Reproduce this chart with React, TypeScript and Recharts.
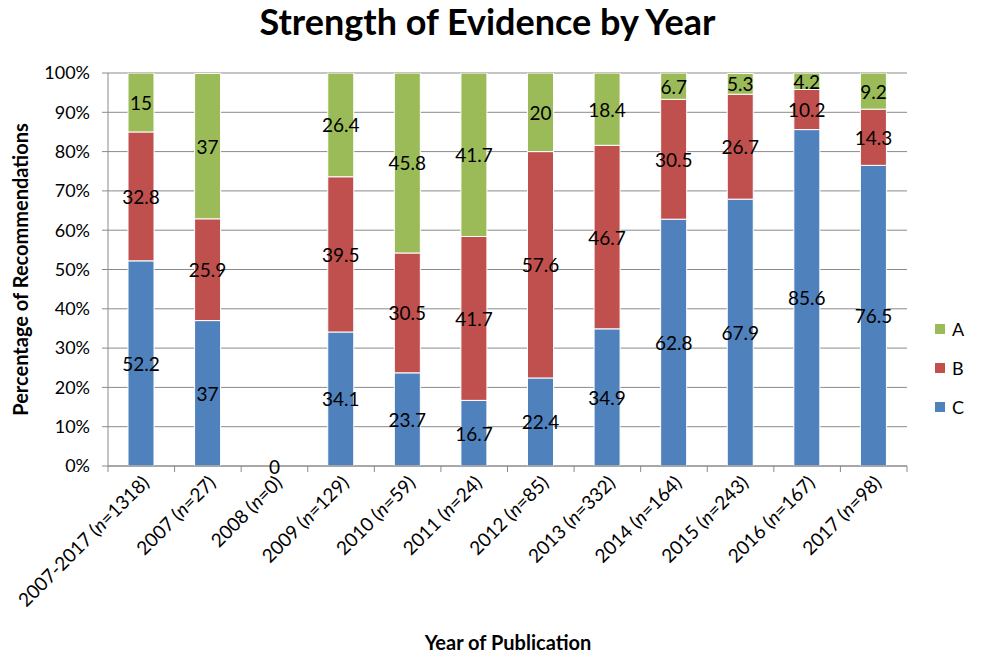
import { Bar, CartesianGrid, ComposedChart, LabelList, Line, XAxis, YAxis } from 'recharts';

const years = ['2007-2017', '2007', '2008', '2009', '2010', '2011', '2012', '2013', '2014', '2015', '2016', '2017'];
const counts = [1318, 27, 0, 129, 59, 24, 85, 332, 164, 243, 167, 98];

const gradeC = [52.2, 37, 0, 34.1, 23.7, 16.7, 22.4, 34.9, 62.8, 67.9, 85.6, 76.5];
const gradeB = [32.8, 25.9, 0, 39.5, 30.5, 41.7, 57.6, 46.7, 30.5, 26.7, 10.2, 14.3];
const gradeA = [15, 37, 0, 26.4, 45.8, 41.7, 20, 18.4, 6.7, 5.3, 4.2, 9.2];

const yTicks = [0, 10, 20, 30, 40, 50, 60, 70, 80, 90, 100];

const series = [
    { key: 'A', color: '#9BBB59' },
    { key: 'B', color: '#C0504D' },
    { key: 'C', color: '#4F81BD' },
];

// empty years still get a "0" label, like the spreadsheet does
const data = years.map((year, i) => ({
    name: year,
    n: counts[i],
    C: gradeC[i],
    B: gradeB[i],
    A: gradeA[i],
    empty: gradeA[i] + gradeB[i] + gradeC[i] === 0 ? 0 : null,
}));

const FONT = 'Lato, "Open Sans", sans-serif';
const AXIS_GREY = '#8a8a8a';

function CategoryTick(props: any) {
    const { x, y, payload, index } = props;
    const half = payload.offset ?? 33.3;
    const entry = data[index];
    const isLast = index === years.length - 1;
    return (
        <g>
            <line x1={x - half} y1={y} x2={x - half} y2={y + 6} stroke={AXIS_GREY} />
            {isLast && <line x1={x + half} y1={y} x2={x + half} y2={y + 6} stroke={AXIS_GREY} />}
            <text
                x={0}
                y={0}
                transform={`translate(${x + 9}, ${y + 18}) rotate(-45)`}
                textAnchor="end"
                fontSize={19}
                fontFamily={FONT}
                fill="#000"
            >
                {`${entry.name} (`}
                <tspan fontStyle="italic">n</tspan>
                {`=${entry.n})`}
            </text>
        </g>
    );
}

function SegmentLabel(props: any) {
    const { x, y, width, height, value } = props;
    if (!value) return null;
    return (
        <text
            x={x + width / 2}
            y={y + height / 2}
            textAnchor="middle"
            dominantBaseline="central"
            fontSize={19}
            fontFamily={FONT}
            fill="#000"
        >
            {value}
        </text>
    );
}

function EmptyLabel(props: any) {
    const { x, y, value } = props;
    if (value === null || value === undefined) return null;
    return (
        <text x={x} y={y} textAnchor="middle" dominantBaseline="central" fontSize={19} fontFamily={FONT} fill="#000">
            {value}
        </text>
    );
}

export default function App() {
    return (
        <div style={{ position: 'absolute', left: 0, top: 0, width: 982, height: 655, background: '#fff' }}>
            <div
                style={{
                    position: 'absolute',
                    left: 0,
                    top: -1,
                    width: 975,
                    textAlign: 'center',
                    fontFamily: FONT,
                    fontWeight: 700,
                    fontSize: 36,
                    color: '#000',
                }}
            >
                Strength of Evidence by Year
            </div>
            <ComposedChart
                width={982}
                height={655}
                data={data}
                margin={{ top: 73, right: 75, bottom: 0, left: 0 }}
                barSize={26}
            >
                <CartesianGrid horizontal vertical={false} stroke={AXIS_GREY} />
                <XAxis
                    dataKey="name"
                    interval={0}
                    height={189}
                    tickSize={0}
                    tickMargin={0}
                    tickLine={false}
                    axisLine={{ stroke: AXIS_GREY }}
                    tick={<CategoryTick />}
                />
                <YAxis
                    width={108}
                    domain={[0, 100]}
                    allowDataOverflow
                    ticks={yTicks}
                    tickFormatter={(v: number) => `${v}%`}
                    tick={{ fill: '#000', fontSize: 18, fontFamily: FONT }}
                    tickSize={6}
                    tickMargin={12}
                    tickLine={{ stroke: AXIS_GREY }}
                    axisLine={{ stroke: AXIS_GREY }}
                    label={{
                        value: 'Percentage of Recommendations',
                        angle: -90,
                        position: 'insideLeft',
                        offset: 21,
                        style: { textAnchor: 'middle', fontFamily: FONT, fontWeight: 700, fontSize: 20, fill: '#000' },
                    }}
                />
                <YAxis
                    yAxisId="frame"
                    orientation="right"
                    width={0}
                    tick={false}
                    tickLine={false}
                    axisLine={{ stroke: AXIS_GREY }}
                />
                <Bar dataKey="C" stackId="s" fill="#4F81BD" stroke="#ffffff" strokeWidth={1} isAnimationActive={false}>
                    <LabelList dataKey="C" content={SegmentLabel} />
                </Bar>
                <Bar dataKey="B" stackId="s" fill="#C0504D" stroke="#ffffff" strokeWidth={1} isAnimationActive={false}>
                    <LabelList dataKey="B" content={SegmentLabel} />
                </Bar>
                <Bar dataKey="A" stackId="s" fill="#9BBB59" stroke="#ffffff" strokeWidth={1} isAnimationActive={false}>
                    <LabelList dataKey="A" content={SegmentLabel} />
                </Bar>
                <Line
                    dataKey="empty"
                    stroke="none"
                    dot={false}
                    activeDot={false}
                    legendType="none"
                    isAnimationActive={false}
                >
                    <LabelList dataKey="empty" content={EmptyLabel} />
                </Line>
            </ComposedChart>
            <div
                style={{
                    position: 'absolute',
                    left: 935,
                    top: 309,
                    fontFamily: FONT,
                    fontSize: 18,
                    color: '#000',
                }}
            >
                {series.map((s) => (
                    <div key={s.key} style={{ display: 'flex', alignItems: 'center', height: 39 }}>
                        <span style={{ width: 10, height: 10, background: s.color, marginRight: 7 }} />
                        <span>{s.key}</span>
                    </div>
                ))}
            </div>
            <div
                style={{
                    position: 'absolute',
                    left: 108,
                    top: 630,
                    width: 800,
                    textAlign: 'center',
                    fontFamily: FONT,
                    fontWeight: 700,
                    fontSize: 20,
                    color: '#000',
                }}
            >
                Year of Publication
            </div>
        </div>
    );
}
